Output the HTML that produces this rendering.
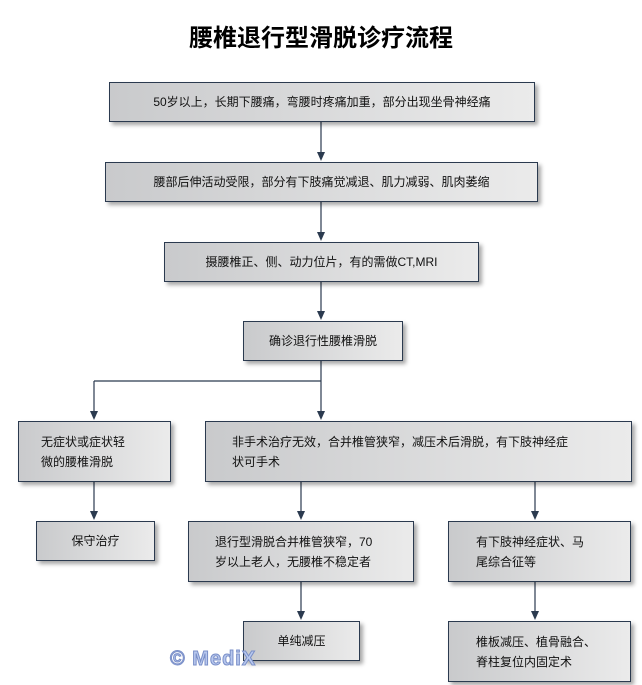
<!DOCTYPE html>
<html><head><meta charset="utf-8"><style>
body{margin:0;width:642px;height:685px;background:#fff;position:relative;overflow:hidden;font-family:"Liberation Sans","Noto Sans CJK SC",sans-serif;}
.b{position:absolute;box-sizing:border-box;border:1px solid #2b3a4f;background:linear-gradient(to right,#c9cacc,#ebebeb);box-shadow:3px 3px 4px rgba(0,0,0,.35);font-size:12px;color:#111;display:flex;align-items:center;justify-content:center;line-height:20px;}
.l{justify-content:flex-start;}
.t{position:absolute;left:0;width:642px;top:18px;text-align:center;font-size:24px;font-weight:bold;font-family:"Liberation Sans","Noto Sans CJK SC",sans-serif;}
svg{position:absolute;left:0;top:0}
.wm{position:absolute;left:170px;top:648px;font-size:20px;font-weight:bold;color:#b8c8ee;-webkit-text-stroke:1px #7a8fc8;letter-spacing:1px}
</style></head><body>
<div class="t">腰椎退行型滑脱诊疗流程</div>
<svg width="642" height="685">
<g stroke="#2b3a4f" stroke-width="1.2" fill="none">
<path d="M321 121V155M321 202V235M321 281V314M321 360V414M94 381H321M94 381V414M94 481V514M301 481V514M535 481V514M301 581V614M535 581V614"/>
</g>
<g fill="#2b3a4f">
<path d="M317 152h8l-4 9z"/><path d="M317 232h8l-4 9z"/><path d="M317 311h8l-4 9z"/>
<path d="M90 411h8l-4 9z"/><path d="M317 411h8l-4 9z"/>
<path d="M90 511h8l-4 9z"/><path d="M297 511h8l-4 9z"/><path d="M531 511h8l-4 9z"/>
<path d="M297 611h8l-4 9z"/><path d="M531 611h8l-4 9z"/>
</g></svg>
<div class="b" style="left:109px;top:82px;width:426px;height:40px">50岁以上，长期下腰痛，弯腰时疼痛加重，部分出现坐骨神经痛</div>
<div class="b" style="left:105px;top:162px;width:433px;height:40px">腰部后伸活动受限，部分有下肢痛觉减退、肌力减弱、肌肉萎缩</div>
<div class="b" style="left:164px;top:242px;width:315px;height:40px">摄腰椎正、侧、动力位片，有的需做CT,MRI</div>
<div class="b" style="left:243px;top:321px;width:160px;height:40px">确诊退行性腰椎滑脱</div>
<div class="b l" style="left:18px;top:421px;width:153px;height:61px;padding:0 40px 0 22px">无症状或症状轻微的腰椎滑脱</div>
<div class="b l" style="left:205px;top:421px;width:427px;height:61px;padding:0 56px 0 26px">非手术治疗无效，合并椎管狭窄，减压术后滑脱，有下肢神经症状可手术</div>
<div class="b" style="left:36px;top:521px;width:119px;height:40px">保守治疗</div>
<div class="b l" style="left:188px;top:521px;width:226px;height:61px;padding:0 34px 0 26px">退行型滑脱合并椎管狭窄，70 岁以上老人，无腰椎不稳定者</div>
<div class="b l" style="left:448px;top:521px;width:183px;height:61px;padding:0 40px 0 27px">有下肢神经症状、马尾综合征等</div>
<div class="b" style="left:243px;top:621px;width:117px;height:40px">单纯减压</div>
<div class="b l" style="left:448px;top:621px;width:183px;height:61px;padding:0 30px 0 27px">椎板减压、植骨融合、脊柱复位内固定术</div>
<div class="wm">© MediX</div>
</body></html>
